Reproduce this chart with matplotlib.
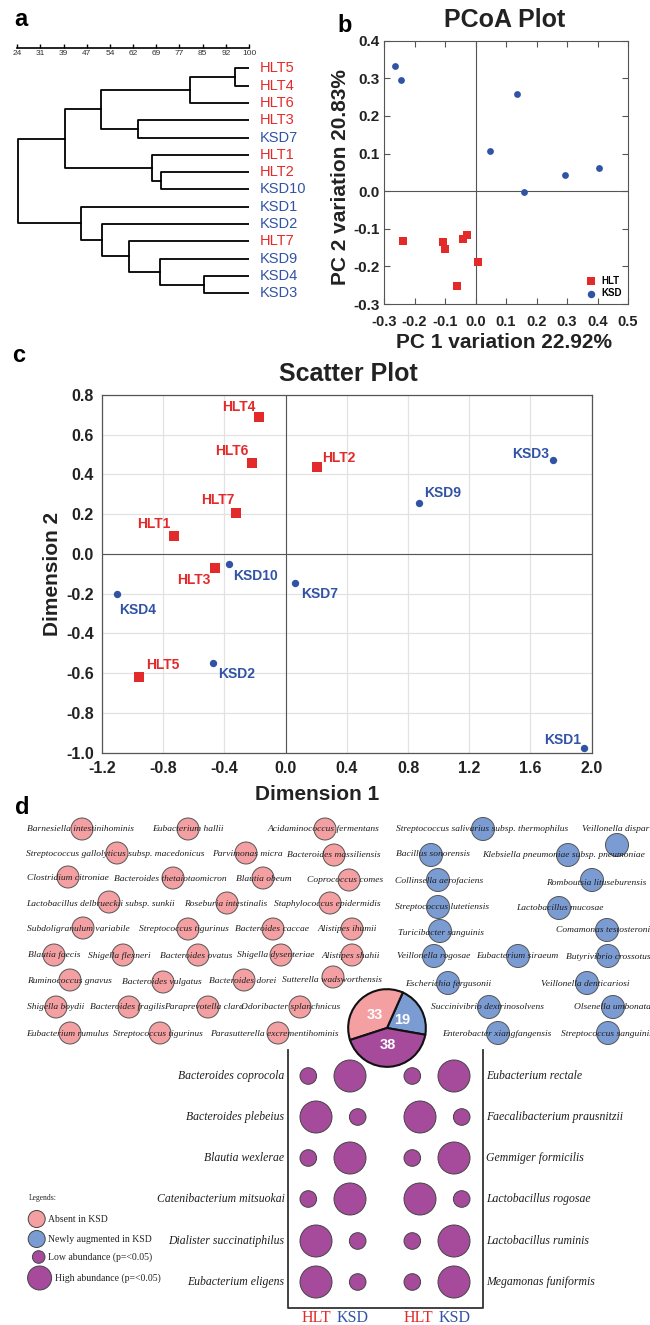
import numpy as np
import matplotlib
matplotlib.use('Agg')
import matplotlib.pyplot as plt
from matplotlib.patches import Circle

plt.rcParams['font.family'] = 'Liberation Sans'
plt.rcParams['axes.unicode_minus'] = False

W, H = 650, 1325
RED = '#e32a2a'
BLUE = '#3153a5'
PINK = '#f4a0a2'
LBLUE = '#7b9bd3'
PURPLE = '#a64a9c'
SERIF = 'Liberation Serif'

# ---------------- data ----------------
# a: dendrogram (similarity %)
leaf_names = ['HLT5', 'HLT4', 'HLT6', 'HLT3', 'KSD7', 'HLT1', 'HLT2', 'KSD10',
              'KSD1', 'KSD2', 'HLT7', 'KSD9', 'KSD4', 'KSD3']
merges = [('HLT5', 'HLT4', 95.5), ('m0', 'HLT6', 80.6), ('HLT3', 'KSD7', 63.6),
          ('m1', 'm2', 51.5), ('HLT2', 'KSD10', 71.0), ('HLT1', 'm4', 68.2),
          ('m3', 'm5', 39.7), ('KSD4', 'KSD3', 85.4), ('KSD9', 'm7', 70.7),
          ('HLT7', 'm8', 60.5), ('KSD2', 'm9', 51.8), ('KSD1', 'm10', 44.9),
          ('m6', 'm11', 24.3)]
scale_labels = ['24', '31', '39', '47', '54', '62', '69', '77', '85', '92', '100']

# b: PCoA
pcoa_hlt_x = [-0.239, -0.108, -0.101, -0.041, -0.029, 0.009, -0.061]
pcoa_hlt_y = [-0.133, -0.136, -0.155, -0.127, -0.116, -0.188, -0.252]
pcoa_ksd_x = [-0.264, -0.245, 0.135, 0.047, 0.159, 0.292, 0.404]
pcoa_ksd_y = [0.334, 0.295, 0.258, 0.107, -0.003, 0.044, 0.061]
pcoa_xticks = [-0.3, -0.2, -0.1, 0.0, 0.1, 0.2, 0.3, 0.4, 0.5]
pcoa_yticks = [-0.3, -0.2, -0.1, 0.0, 0.1, 0.2, 0.3, 0.4]

# c: scatter (MDS)
mds_names = ['HLT4', 'HLT6', 'HLT2', 'HLT7', 'HLT1', 'HLT3', 'HLT5',
             'KSD3', 'KSD9', 'KSD10', 'KSD7', 'KSD4', 'KSD2', 'KSD1']
mds_x = [-0.175, -0.222, 0.203, -0.325, -0.728, -0.464, -0.960,
         1.747, 0.873, -0.372, 0.059, -1.101, -0.475, 1.949]
mds_y = [0.691, 0.459, 0.439, 0.205, 0.088, -0.071, -0.621,
         0.473, 0.258, -0.049, -0.147, -0.203, -0.548, -0.978]
mds_xticks = [-1.2, -0.8, -0.4, 0.0, 0.4, 0.8, 1.2, 1.6, 2.0]
mds_yticks = [-1.0, -0.8, -0.6, -0.4, -0.2, 0.0, 0.2, 0.4, 0.6, 0.8]

# d: species
absent_in_ksd = [
    'Barnesiella intestinihominis', 'Eubacterium hallii', 'Acidaminococcus fermentans',
    'Streptococcus gallolyticus subsp. macedonicus', 'Parvimonas micra', 'Bacteroides massiliensis',
    'Clostridium citroniae', 'Bacteroides thetaiotaomicron', 'Blautia obeum', 'Coprococcus comes',
    'Lactobacillus delbrueckii subsp. sunkii', 'Roseburia intestinalis', 'Staphylococcus epidermidis',
    'Subdoligranulum variabile', 'Streptococcus tigurinus', 'Bacteroides caccae', 'Alistipes ihumii',
    'Blautia faecis', 'Shigella flexneri', 'Bacteroides ovatus', 'Shigella dysenteriae', 'Alistipes shahii',
    'Ruminococcus gnavus', 'Bacteroides vulgatus', 'Bacteroides dorei', 'Sutterella wadsworthensis',
    'Shigella boydii', 'Bacteroides fragilis', 'Paraprevotella clara', 'Odoribacter splanchnicus',
    'Eubacterium rumulus', 'Streptococcus tigurinus', 'Parasutterella excrementihominis']
augmented_in_ksd = [
    'Streptococcus salivarius subsp. thermophilus', 'Veillonella dispar', 'Bacillus sonorensis',
    'Klebsiella pneumoniae subsp. pneumoniae', 'Collinsella aerofaciens', 'Romboutsia lituseburensis',
    'Streptococcus lutetiensis', 'Lactobacillus mucosae', 'Turicibacter sanguinis',
    'Comamonas testosteroni', 'Veillonella rogosae', 'Eubacterium siraeum', 'Butyrivibrio crossotus',
    'Escherichia fergusonii', 'Veillonella denticariosi', 'Succinivibrio dextrinosolvens',
    'Olsenella umbonata', 'Enterobacter xiangfangensis', 'Streptococcus sanguinis']
pie_values = [19, 33, 38]
left_species = ['Bacteroides coprocola', 'Bacteroides plebeius', 'Blautia wexlerae',
                'Catenibacterium mitsuokai', 'Dialister succinatiphilus', 'Eubacterium eligens']
left_higher = ['KSD', 'HLT', 'KSD', 'KSD', 'HLT', 'HLT']
right_species = ['Eubacterium rectale', 'Faecalibacterium prausnitzii', 'Gemmiger formicilis',
                 'Lactobacillus rogosae', 'Lactobacillus ruminis', 'Megamonas funiformis']
right_higher = ['KSD', 'HLT', 'KSD', 'HLT', 'KSD', 'KSD']

# ---------------- layout (pixels) ----------------
absent_text = [(27, 829), (152, 829), (268, 829), (26, 854), (212, 854), (287, 855),
               (27, 878), (114, 879), (236, 879), (307, 880), (26, 904), (184, 904), (274, 904),
               (27, 929), (139, 929), (235, 929), (318, 929), (28, 955), (88, 956), (160, 956),
               (237, 955), (322, 956), (27, 981), (122, 982), (209, 981), (282, 980),
               (27, 1007), (90, 1007), (164, 1007), (241, 1007), (26, 1034), (113, 1034), (210, 1034)]
absent_circ = [(82, 829), (188, 829), (325, 829), (117, 853), (246, 853), (334, 855),
               (68, 877), (173, 878), (263, 878), (349, 880), (109, 902), (227, 903), (330, 903),
               (83, 928), (188, 929), (273, 929), (352, 929), (54, 955), (123, 955), (198, 955),
               (281, 955), (352, 955), (70, 980), (163, 982), (244, 980), (333, 977),
               (56, 1007), (129, 1007), (208, 1007), (300, 1007), (70, 1033), (160, 1033), (278, 1033)]
aug_text = [(396, 829), (582, 829), (396, 854), (482, 855), (395, 881), (546, 883),
            (395, 907), (516, 908), (398, 933), (556, 930), (397, 956), (476, 956), (566, 957),
            (405, 984), (541, 984), (431, 1007), (574, 1007), (442, 1034), (561, 1034)]
aug_circ = [(483, 829), (617, 845), (431, 855), (568, 855), (438, 880), (592, 880),
            (438, 907), (559, 908), (440, 931), (607, 930), (434, 956), (518, 956), (608, 956),
            (448, 983), (587, 983), (489, 1007), (613, 1007), (498, 1033), (608, 1033)]
bubble_rows = [1076, 1117, 1158, 1199, 1241, 1282]

fig = plt.figure(figsize=(W / 100, H / 100), dpi=100)


def px_axes(x0, y0, x1, y1):
    return fig.add_axes([x0 / W, 1 - y1 / H, (x1 - x0) / W, (y1 - y0) / H])


def ftext(x, y, s, **kw):
    fig.text(x / W, 1 - y / H, s, **kw)


# ---------------- a ----------------
ftext(21, 20, 'a', fontsize=17, fontweight='bold', ha='center', va='center')
ax = px_axes(17.3, 47.6, 249, 300)
y_top = (47.6 - 68.3) / 17.3
ax.set_xlim(24, 100)
ax.set_ylim((300 - 68.3) / 17.3, y_top)
pos = {n: (100.0, i) for i, n in enumerate(leaf_names)}
for k, (a, b, h) in enumerate(merges):
    xa, ya = pos[a]
    xb, yb = pos[b]
    ax.plot([xa, h, h, xb], [ya, ya, yb, yb], color='black', lw=1.3)
    pos['m%d' % k] = (h, (ya + yb) / 2)
for i, n in enumerate(leaf_names):
    ax.annotate(n, (100, i), xytext=(8, 0), textcoords='offset points', va='center',
                fontsize=10.5, color=RED if n.startswith('HLT') else BLUE,
                annotation_clip=False)
for s in ['left', 'right', 'bottom']:
    ax.spines[s].set_visible(False)
ax.spines['top'].set_linewidth(1.2)
scale_pos = np.linspace(24, 100, len(scale_labels))
ax.set_xticks(scale_pos)
ax.xaxis.set_ticks_position('top')
ax.tick_params(axis='x', direction='out', length=3, width=1, labeltop=False)
ax.set_yticks([])
for t, s in zip(scale_pos, scale_labels):
    ax.text(t, -0.83, s, ha='center', va='center', fontsize=6, color='#333')

# ---------------- b ----------------
ftext(345, 25, 'b', fontsize=17, fontweight='bold', ha='center', va='center')
ftext(505, 20, 'PCoA Plot', fontsize=18, fontweight='bold', ha='center', va='center', color='#222')
ax = px_axes(384, 40.7, 628, 304)
ax.axhline(0, color='#555', lw=0.8, zorder=1)
ax.axvline(0, color='#555', lw=0.8, zorder=1)
ax.scatter(pcoa_hlt_x, pcoa_hlt_y, marker='s', s=28, color=RED, label='HLT', zorder=3, linewidths=0)
ax.scatter(pcoa_ksd_x, pcoa_ksd_y, marker='o', s=24, color=BLUE, label='KSD', zorder=3, linewidths=0)
ax.set_xlim(-0.3, 0.5)
ax.set_ylim(-0.3, 0.4)
ax.set_xticks(pcoa_xticks, labels=['%.1f' % v for v in pcoa_xticks])
ax.set_yticks(pcoa_yticks, labels=['%.1f' % v for v in pcoa_yticks])
ax.tick_params(direction='in', length=4, width=0.8, color='#555', top=True, right=True)
ax.tick_params(axis='x', labelsize=10.5, pad=8)
ax.tick_params(axis='y', labelsize=11, pad=3)
for lab in ax.get_xticklabels() + ax.get_yticklabels():
    lab.set_fontweight('bold')
    lab.set_color('#222')
for s in ax.spines.values():
    s.set_color('#555')
    s.set_linewidth(0.8)
ax.legend(loc='lower right', frameon=False, prop={'size': 7, 'weight': 'bold'},
          handletextpad=0.1, borderaxespad=0.2, labelspacing=0.25, markerscale=1.1)
ftext(504, 342, 'PC 1 variation 22.92%', fontsize=15, fontweight='bold', ha='center', va='center', color='#222')
ftext(340, 177, 'PC 2 variation 20.83%', fontsize=15, fontweight='bold', ha='center', va='center',
      rotation=90, color='#222')

# ---------------- c ----------------
ftext(19, 356, 'c', fontsize=17, fontweight='bold', ha='center', va='center')
ftext(348, 374, 'Scatter Plot', fontsize=18, fontweight='bold', ha='center', va='center', color='#222')
ax = px_axes(102, 395, 591.7, 752.7)
ax.set_xlim(-1.2, 2.0)
ax.set_ylim(-1.0, 0.8)
ax.set_xticks(mds_xticks, labels=['%.1f' % v for v in mds_xticks])
ax.set_yticks(mds_yticks, labels=['%.1f' % v for v in mds_yticks])
ax.grid(True, color='#e2e2e2', lw=0.9, zorder=0)
ax.set_axisbelow(True)
ax.axhline(0, color='#555', lw=0.8, zorder=1)
ax.axvline(0, color='#555', lw=0.8, zorder=1)
ax.tick_params(length=0, labelsize=11.5, pad=6)
for lab in ax.get_xticklabels() + ax.get_yticklabels():
    lab.set_fontweight('bold')
    lab.set_color('#222')
for s in ax.spines.values():
    s.set_color('#555')
    s.set_linewidth(0.9)
label_offsets = {'HLT4': (-20, -10), 'HLT6': (-20, -12), 'HLT2': (22, -9), 'HLT7': (-18, -13),
                 'HLT1': (-20, -12), 'HLT3': (-21, 12), 'HLT5': (24, -12), 'KSD3': (-22, -6),
                 'KSD9': (23, -10), 'KSD10': (27, 12), 'KSD7': (25, 11), 'KSD4': (20, 16),
                 'KSD2': (24, 11), 'KSD1': (-21, -8)}
for n, x, y in zip(mds_names, mds_x, mds_y):
    hlt = n.startswith('HLT')
    ax.scatter([x], [y], marker='s' if hlt else 'o', s=48 if hlt else 28,
               color=RED if hlt else BLUE, zorder=3, linewidths=0, clip_on=False)
    dx, dy = label_offsets[n]
    ax.annotate(n, (x, y), xytext=(dx * 0.72, -dy * 0.72), textcoords='offset points',
                ha='center', va='center', fontsize=10, fontweight='bold',
                color=RED if hlt else BLUE)
ftext(317, 795, 'Dimension 1', fontsize=15, fontweight='bold', ha='center', va='center', color='#222')
ftext(52, 574, 'Dimension 2', fontsize=15, fontweight='bold', ha='center', va='center',
      rotation=90, color='#222')

# ---------------- d ----------------
ftext(22, 807, 'd', fontsize=17, fontweight='bold', ha='center', va='center')
ax = px_axes(0, 810, 650, 1325)
ax.set_xlim(0, 650)
ax.set_ylim(1325, 810)
ax.axis('off')

sp_font = dict(family=SERIF, style='italic', fontsize=6.8, color='#1e1e1e')
for name, (tx, ty), (cx, cy) in zip(absent_in_ksd, absent_text, absent_circ):
    ax.add_patch(Circle((cx, cy), 11, facecolor=PINK, edgecolor='#555', lw=0.7, zorder=1))
    ax.text(tx, ty, name, ha='left', va='center', zorder=3, clip_on=False, **sp_font)
for name, (tx, ty), (cx, cy) in zip(augmented_in_ksd, aug_text, aug_circ):
    ax.add_patch(Circle((cx, cy), 11.5, facecolor=LBLUE, edgecolor='#555', lw=0.7, zorder=1))
    ax.text(tx, ty, name, ha='left', va='center', zorder=3, clip_on=False, **sp_font)

# box around abundance bubbles
ax.plot([288, 288, 482.5, 482.5], [1050, 1308, 1308, 1050], color='#333', lw=1.3)
big, small = 16, 8.3
for names, higher, hx, kx in [(left_species, left_higher, 300, 366),
                              (right_species, right_higher, 404, 470)]:
    for y, h in zip(bubble_rows, higher):
        rh = big if h == 'HLT' else small
        rk = big if h == 'KSD' else small
        ax.add_patch(Circle((hx + rh, y), rh, facecolor=PURPLE, edgecolor='#444', lw=0.7))
        ax.add_patch(Circle((kx - rk, y), rk, facecolor=PURPLE, edgecolor='#444', lw=0.7))
for y, n in zip(bubble_rows, left_species):
    ax.text(284.5, y, n, ha='right', va='center', family=SERIF, style='italic',
            fontsize=8.5, color='#1e1e1e')
for y, n in zip(bubble_rows, right_species):
    ax.text(486, y, n, ha='left', va='center', family=SERIF, style='italic',
            fontsize=8.5, color='#1e1e1e')
for x0 in [316.7, 418.7]:
    ax.text(x0, 1318, 'HLT', ha='center', va='center', family=SERIF, fontsize=11.5, color=RED)
    ax.text(x0 + 35.5, 1318, 'KSD', ha='center', va='center', family=SERIF, fontsize=11.5, color=BLUE)

# legend
ax.text(29, 1198, 'Legends:', ha='left', va='center', family=SERIF, fontsize=5.5, color='#222')
leg_items = [(36.7, 1219, 8.5, PINK, 'Absent in KSD', 48),
             (36.7, 1239, 8.5, LBLUE, 'Newly augmented in KSD', 48),
             (38.7, 1257, 6.3, PURPLE, 'Low abundance (p=<0.05)', 48),
             (39.6, 1278, 12, PURPLE, 'High abundance (p=<0.05)', 55)]
for cx, cy, r, c, lab, tx in leg_items:
    ax.add_patch(Circle((cx, cy), r, facecolor=c, edgecolor='#444', lw=0.7))
    ax.text(tx, cy, lab, ha='left', va='center', family=SERIF, fontsize=7, color='#222')

# pie
axp = px_axes(347, 988, 427, 1068)
total = sum(pie_values)
axp.pie(pie_values, colors=[LBLUE, PINK, PURPLE], startangle=-10, counterclock=True,
        wedgeprops=dict(edgecolor='#111', linewidth=1.5),
        autopct=lambda p: '%.0f' % (p * total / 100), pctdistance=0.45,
        textprops=dict(color='white', fontsize=10.5, fontweight='bold'))
axp.set_xlim(-1.03, 1.03)
axp.set_ylim(-1.03, 1.03)
axp.set_aspect('equal')

fig.savefig('out.png', dpi=100)
